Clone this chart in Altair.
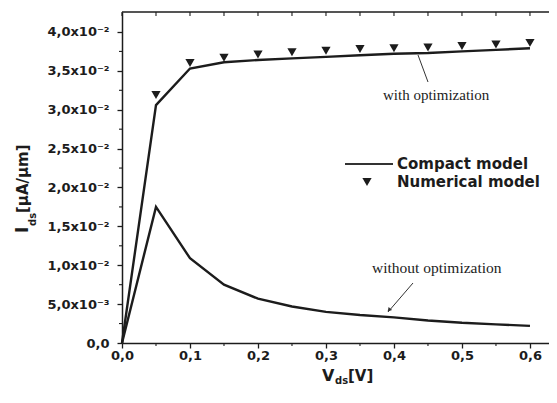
import altair as alt
import pandas as pd

# ---- data ----
vds = [0.0, 0.05, 0.1, 0.15, 0.2, 0.25, 0.3, 0.35, 0.4, 0.45, 0.5, 0.55, 0.6]
compact_with = [0.0, 0.0306, 0.0353, 0.0361, 0.0364, 0.0366, 0.0368, 0.0370,
                0.0372, 0.0373, 0.0375, 0.0377, 0.0379]
compact_without = [0.0, 0.0175, 0.0109, 0.0075, 0.0057, 0.0047, 0.0040, 0.0036,
                   0.0033, 0.0029, 0.0026, 0.0024, 0.0022]
num_vds = [0.05, 0.1, 0.15, 0.2, 0.25, 0.3, 0.35, 0.4, 0.45, 0.5, 0.55, 0.6]
numerical = [0.0319, 0.0360, 0.0367, 0.0371, 0.0374, 0.0376, 0.0378, 0.0379,
             0.0380, 0.0382, 0.0384, 0.0386]

x_ticks = [0.0, 0.1, 0.2, 0.3, 0.4, 0.5, 0.6]
x_minor = [0.05, 0.15, 0.25, 0.35, 0.45, 0.55]
top_ticks = [0.0, 0.05, 0.1, 0.15, 0.2, 0.25, 0.3, 0.35, 0.4, 0.45, 0.5, 0.55, 0.6]
y_ticks = [0.0, 0.005, 0.01, 0.015, 0.02, 0.025, 0.03, 0.035, 0.04]
y_labels = ["0,0", "5,0x10\u207b\u00b3", "1,0x10\u207b\u00b2", "1,5x10\u207b\u00b2",
            "2,0x10\u207b\u00b2", "2,5x10\u207b\u00b2", "3,0x10\u207b\u00b2",
            "3,5x10\u207b\u00b2", "4,0x10\u207b\u00b2"]
y_minor = [0.0025, 0.0075, 0.0125, 0.0175, 0.0225, 0.0275, 0.0325, 0.0375]

W, H = 427, 331
INK = "#1c1c1c"
FONT = "DejaVu Sans"

lines_df = pd.DataFrame(
    {"vds": vds * 2,
     "ids": compact_with + compact_without,
     "series": ["with"] * len(vds) + ["without"] * len(vds)}
)
num_df = pd.DataFrame({"vds": num_vds, "ids": numerical})

xscale = alt.Scale(domain=[0, 0.628], nice=False)
yscale = alt.Scale(domain=[0, 0.04257], nice=False)

lab_arr = "[" + ",".join("'" + s + "'" for s in y_labels) + "]"
val_arr = "[" + ",".join(repr(v) for v in y_ticks) + "]"

xaxis = alt.Axis(values=x_ticks, title=None, grid=False, labelFlush=False,
                 labelExpr="replace(format(datum.value, '.1f'), '.', ',')",
                 labelFont=FONT, labelFontWeight="bold", labelFontSize=13,
                 labelColor=INK, labelPadding=1, tickSize=5, tickColor=INK,
                 tickWidth=1.3, domainColor=INK, domainWidth=1.5)
yaxis = alt.Axis(values=y_ticks, title=None, grid=False, labelFlush=False,
                 labelExpr=lab_arr + "[indexof(" + val_arr + ", datum.value)]",
                 labelFont=FONT, labelFontWeight="bold", labelFontSize=13,
                 labelColor=INK, labelPadding=8, tickSize=5, tickColor=INK,
                 tickWidth=1.3, domainColor=INK, domainWidth=1.5)

base_line = alt.Chart(lines_df).mark_line(strokeWidth=2.4, color=INK).encode(
    x=alt.X("vds:Q", scale=xscale, axis=xaxis),
    y=alt.Y("ids:Q", scale=yscale, axis=yaxis),
    detail="series:N",
)

points = alt.Chart(num_df).mark_point(
    shape="triangle-down", filled=True, color=INK, size=85, opacity=1
).encode(x=alt.X("vds:Q", scale=xscale), y=alt.Y("ids:Q", scale=yscale))

# minor ticks and top border
ym_df = pd.DataFrame({"v": y_minor})
y_minor_ticks = alt.Chart(ym_df).mark_rule(color=INK, strokeWidth=1.1).encode(
    y=alt.Y("v:Q", scale=yscale), x=alt.value(-3), x2=alt.value(0))
xm_df = pd.DataFrame({"v": x_minor})
x_minor_ticks = alt.Chart(xm_df).mark_rule(color=INK, strokeWidth=1.1).encode(
    x=alt.X("v:Q", scale=xscale), y=alt.value(H), y2=alt.value(H + 3))
tt_df = pd.DataFrame({"v": top_ticks})
top_tick_marks = alt.Chart(tt_df).mark_rule(color=INK, strokeWidth=1.1).encode(
    x=alt.X("v:Q", scale=xscale), y=alt.value(0), y2=alt.value(4))

one = pd.DataFrame({"a": [0]})
top_border = alt.Chart(one).mark_rule(color=INK, strokeWidth=1.5).encode(
    x=alt.value(0), x2=alt.value(W), y=alt.value(0))


def txt(text, x, y, size, weight="normal", font=FONT, angle=0, align="left",
        baseline="middle"):
    kw = dict(text=text, fontSize=size, fontWeight=weight, font=font,
              align=align, baseline=baseline, color=INK)
    if angle:
        kw["angle"] = angle
    return alt.Chart(one).mark_text(**kw).encode(x=alt.value(x), y=alt.value(y))


def seg(x1, y1, x2, y2, w=1.0):
    return alt.Chart(one).mark_rule(color="#333333", strokeWidth=w).encode(
        x=alt.value(x1), y=alt.value(y1), x2=alt.value(x2), y2=alt.value(y2))


# legend
legend_line = seg(223, 152, 271, 152, 2.2)
legend_tri = alt.Chart(one).mark_point(
    shape="triangle-down", filled=True, color=INK, size=85, opacity=1
).encode(x=alt.value(245), y=alt.value(170))
leg1 = txt("Compact model", 275, 152, 15, "bold")
leg2 = txt("Numerical model", 275, 170, 15, "bold")

# annotations
ann1 = txt("with optimization", 261, 83, 15, font="Liberation Serif")
arr1 = seg(296, 43, 306, 70, 1.0)
ann2 = txt("without optimization", 250, 256, 15.5, font="Liberation Serif")
arr2 = seg(291, 271, 266, 300, 1.0)
head2 = alt.Chart(one).mark_point(
    shape="triangle-up", filled=True, color="#333333", size=22, opacity=1,
    angle=221
).encode(x=alt.value(267), y=alt.value(298))

# axis titles
yt1 = txt("I", -94, 221, 17, "bold", angle=270, baseline="alphabetic")
yt2 = txt("ds", -86, 214, 10, "bold", angle=270, baseline="alphabetic")
yt3 = txt("[\u00b5A/\u00b5m]", -94, 201, 15, "bold", angle=270, baseline="alphabetic")
xt1 = txt("V", 200, 369, 16, "bold", baseline="alphabetic")
xt2 = txt("ds", 213, 372, 10, "bold", baseline="alphabetic")
xt3 = txt("[V]", 226, 369, 15, "bold", baseline="alphabetic")

chart = alt.layer(
    base_line, points, y_minor_ticks, x_minor_ticks, top_tick_marks, top_border,
    legend_line, legend_tri, leg1, leg2, ann1, arr1, ann2, arr2, head2,
    yt1, yt2, yt3, xt1, xt2, xt3,
).properties(
    width=W, height=H,
    autosize=alt.AutoSizeParams(type="none"),
    padding={"left": 114, "top": 4, "right": 0, "bottom": 46},
    background="white",
).configure_view(stroke=None)

chart.save("out.html", embed_options={"renderer": "svg", "actions": False})
